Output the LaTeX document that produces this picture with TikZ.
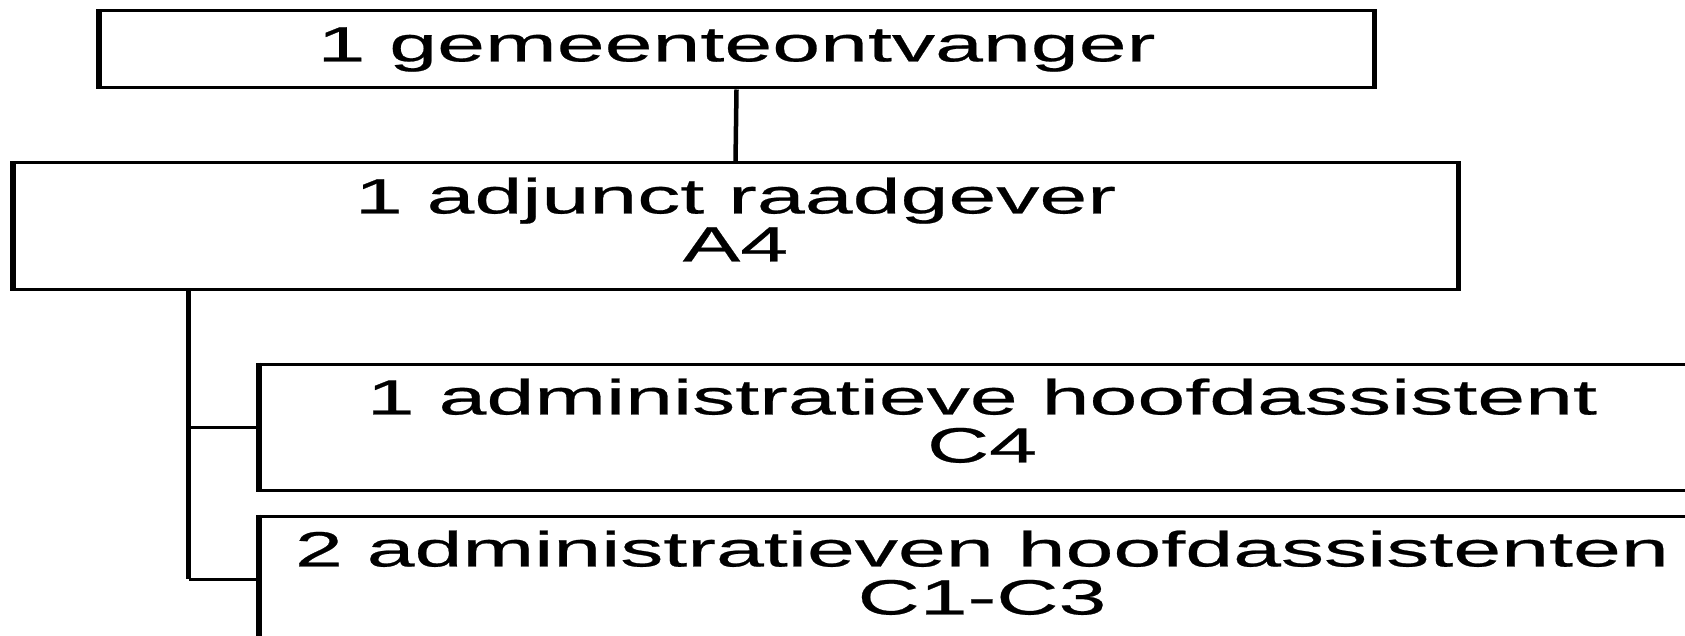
\documentclass[tikz,border=0pt]{standalone}
\usepackage{fontspec}
\setmainfont[FakeStretch=1.74,FakeBold=0.5]{Liberation Sans}
\begin{document}
\begin{tikzpicture}[x=1pt,y=-1pt,
  box/.style={draw, line width=3pt, inner sep=0pt, align=center, font=\fontsize{49.5}{48}\selectfont},
  twoline/.style={text depth=13pt},
  side/.style={line width=5pt},
  link/.style={line width=4.5pt},
  branch/.style={line width=3pt}]
\useasboundingbox (0,0) rectangle (1685,636);
\clip (0,0) rectangle (1685,636);
\node[box, minimum width=1273pt, minimum height=77pt] (b1) at (736.5,49.5) {1 gemeenteontvanger};
\node[box, twoline, minimum width=1443pt, minimum height=126pt] (b2) at (735.5,226) {1 adjunct raadgever\\A4};
\node[box, twoline, minimum width=1444pt, minimum height=126pt] (b3) at (982,427) {1 administratieve hoofdassistent\\C4};
\node[box, twoline, minimum width=1444pt, minimum height=126pt] (b4) at (982,579) {2 administratieven hoofdassistenten\\C1-C3};
\foreach \n in {b1,b2,b3,b4} {
  \draw[side] (\n.north west) -- (\n.south west);
  \draw[side] (\n.north east) -- (\n.south east);
}
\draw[link] (b1.south) -- (b2.north);
\coordinate (trunk) at ([xshift=176pt]b2.south west);
\draw[link] (trunk) -- (trunk |- b4.west);
\draw[branch] (trunk |- b3.west) -- (b3.west);
\draw[branch] (trunk |- b4.west) -- (b4.west);
\end{tikzpicture}
\end{document}
